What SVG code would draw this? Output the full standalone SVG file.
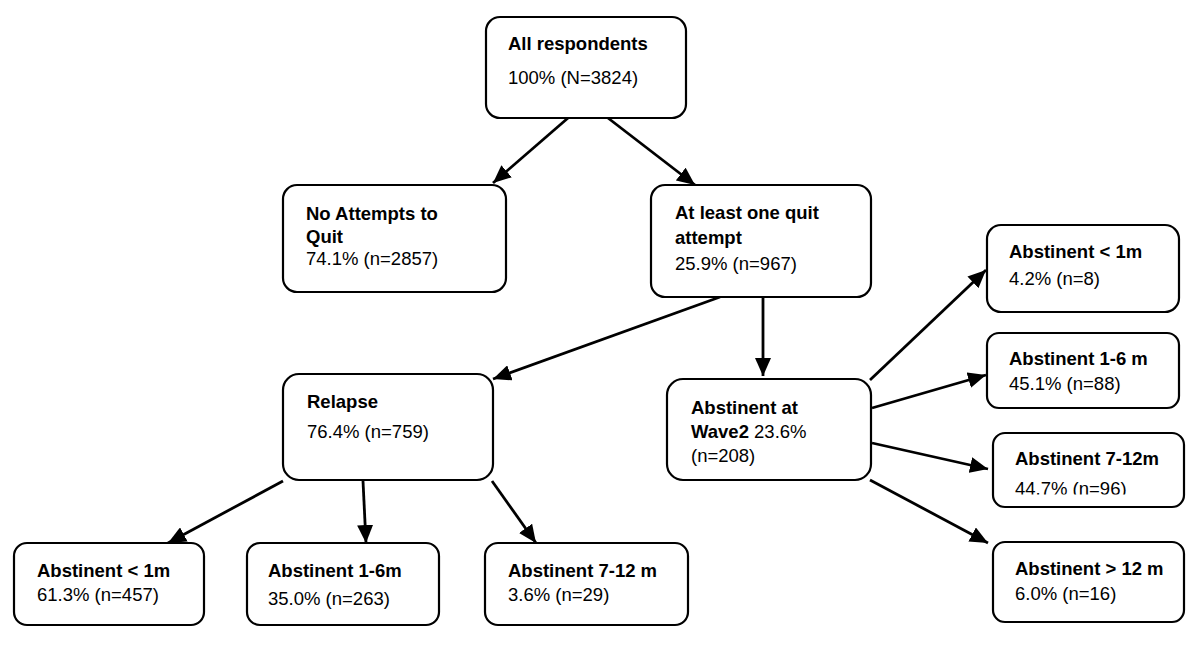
<svg xmlns="http://www.w3.org/2000/svg" width="1200" height="647" viewBox="0 0 1200 647">
<style>
.box{fill:#fff;stroke:#000;stroke-width:2.2}
.t{font-family:"Liberation Sans",Arial,sans-serif;font-size:18.5px;fill:#000}
.b{font-weight:bold}
.c{stroke:#000;stroke-width:2.8;fill:none;marker-end:url(#ah)}
</style>
<defs>
<marker id="ah" markerUnits="userSpaceOnUse" markerWidth="20" markerHeight="16" refX="18" refY="8" orient="auto">
<path d="M0,0 L18,8 L0,16 z" fill="#000"/>
</marker>
<clipPath id="clipC"><rect x="990" y="430" width="200" height="64.5"/></clipPath>
</defs>
<rect width="1200" height="647" fill="#fff"/>
<g id="connectors">
<line class="c" x1="568" y1="118" x2="493" y2="183"/>
<line class="c" x1="608" y1="118" x2="695" y2="185"/>
<line class="c" x1="720" y1="297" x2="493" y2="379"/>
<line class="c" x1="763" y1="297" x2="763" y2="376"/>
<line class="c" x1="283" y1="481" x2="168" y2="543"/>
<line class="c" x1="363" y1="481" x2="366" y2="543"/>
<line class="c" x1="492" y1="481" x2="536" y2="543"/>
<line class="c" x1="870" y1="380" x2="986" y2="270"/>
<line class="c" x1="872" y1="408" x2="986" y2="375"/>
<line class="c" x1="872" y1="443" x2="988" y2="469"/>
<line class="c" x1="870" y1="480" x2="988" y2="543"/>
</g>
<g id="all">
<rect class="box" x="486" y="17" width="200" height="101" rx="14"/>
<text class="t b" x="508" y="50">All respondents</text>
<text class="t" x="508" y="84">100% (N=3824)</text>
</g>
<g id="noattempt">
<rect class="box" x="283" y="185" width="223" height="107" rx="14"/>
<text class="t b" x="306" y="220">No Attempts to</text>
<text class="t b" x="306" y="243">Quit</text>
<text class="t" x="306" y="265">74.1% (n=2857)</text>
</g>
<g id="atleast">
<rect class="box" x="651" y="185" width="220" height="112" rx="14"/>
<text class="t b" x="675" y="219">At least one quit</text>
<text class="t b" x="675" y="244">attempt</text>
<text class="t" x="675" y="270">25.9% (n=967)</text>
</g>
<g id="relapse">
<rect class="box" x="283" y="374" width="210" height="106" rx="16"/>
<text class="t b" x="307" y="408">Relapse</text>
<text class="t" x="307" y="438">76.4% (n=759)</text>
</g>
<g id="wave2">
<rect class="box" x="667" y="379" width="204" height="101" rx="16"/>
<text class="t b" x="691" y="414">Abstinent at</text>
<text class="t" x="691" y="438"><tspan class="b">Wave2</tspan> 23.6%</text>
<text class="t" x="691" y="462">(n=208)</text>
</g>
<g id="r1">
<rect class="box" x="987" y="225" width="192" height="87" rx="14"/>
<text class="t b" x="1009" y="258">Abstinent &lt; 1m</text>
<text class="t" x="1009" y="285">4.2% (n=8)</text>
</g>
<g id="r2">
<rect class="box" x="987" y="333" width="192" height="75" rx="12"/>
<text class="t b" x="1009" y="365">Abstinent 1-6 m</text>
<text class="t" x="1009" y="390">45.1% (n=88)</text>
</g>
<g id="r3">
<rect class="box" x="993" y="433" width="191" height="74" rx="12"/>
<text class="t b" x="1015" y="465">Abstinent 7-12m</text>
<text class="t" x="1015" y="495" clip-path="url(#clipC)">44.7% (n=96)</text>
</g>
<g id="r4">
<rect class="box" x="993" y="542" width="191" height="80" rx="12"/>
<text class="t b" x="1015" y="575">Abstinent &gt; 12 m</text>
<text class="t" x="1015" y="600">6.0% (n=16)</text>
</g>
<g id="b1">
<rect class="box" x="14" y="543" width="190" height="82" rx="13"/>
<text class="t b" x="37" y="577">Abstinent &lt; 1m</text>
<text class="t" x="37" y="601">61.3% (n=457)</text>
</g>
<g id="b2">
<rect class="box" x="247" y="543" width="192" height="82" rx="13"/>
<text class="t b" x="268" y="577">Abstinent 1-6m</text>
<text class="t" x="268" y="605">35.0% (n=263)</text>
</g>
<g id="b3">
<rect class="box" x="485" y="543" width="203" height="82" rx="13"/>
<text class="t b" x="508" y="577">Abstinent 7-12 m</text>
<text class="t" x="508" y="601">3.6% (n=29)</text>
</g>
</svg>
